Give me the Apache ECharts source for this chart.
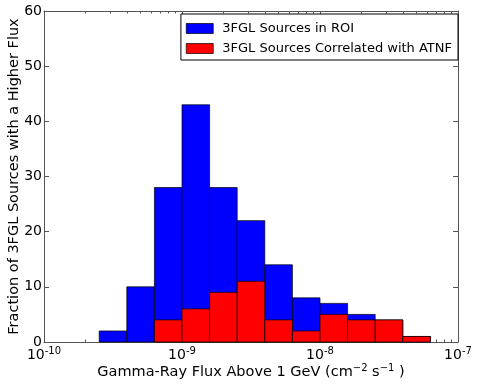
<!DOCTYPE html>
<html>
<head>
<meta charset="utf-8">
<script src="https://cdn.jsdelivr.net/npm/echarts@6/dist/echarts.min.js"></script>
<style>
  html, body { margin: 0; padding: 0; background: #fff; }
  #chart { width: 479px; height: 384px; }
</style>
</head>
<body>
<div id="chart"></div>
<script>
// bin edges in log10(flux), 0.2 dex wide
var binEdges = [-9.6, -9.4, -9.2, -9.0, -8.8, -8.6, -8.4, -8.2, -8.0, -7.8, -7.6, -7.4, -7.2];
var roiCounts = [2, 10, 28, 43, 28, 22, 14, 8, 7, 5, 4, 1];
var atnfCounts = [0, 0, 4, 6, 9, 11, 4, 2, 5, 4, 4, 1];
var xMajorTicks = [-10, -9, -8, -7];
var yTicks = [0, 10, 20, 30, 40, 50, 60];

var font = 'DejaVu Sans';

// minor log ticks 2..9 inside each decade
var xMinorTicks = [];
for (var n = -10; n < -7; n++) {
  for (var k = 2; k <= 9; k++) xMinorTicks.push(n + Math.log10(k));
}

function toBins(counts) {
  var out = [];
  for (var i = 0; i < counts.length; i++) {
    out.push([binEdges[i], binEdges[i + 1], counts[i]]);
  }
  return out;
}

function histItem(fill) {
  return function (params, api) {
    var v = api.value(2);
    if (!v) return null;
    var p0 = api.coord([api.value(0), 0]);
    var p1 = api.coord([api.value(1), v]);
    return {
      type: 'rect',
      shape: { x: p0[0], y: p1[1], width: p1[0] - p0[0], height: p0[1] - p1[1] },
      style: { fill: fill, stroke: '#000', lineWidth: 0.7 }
    };
  };
}

var lineStyle = { color: '#555', width: 1 };
var supStyle = { fontFamily: font, fontSize: 10, color: '#000', verticalAlign: 'bottom', padding: [0, 0, 8, 0] };

function xAxisDef(pos, ticks, len, labels, line) {
  return {
    type: 'value', position: pos, min: -10, max: -7, interval: 1,
    axisLine: { show: line, onZero: false, lineStyle: lineStyle },
    splitLine: { show: false },
    axisTick: { show: true, inside: true, length: len, customValues: ticks, lineStyle: lineStyle },
    axisLabel: labels ? {
      show: true, customValues: xMajorTicks, margin: 4,
      formatter: function (v) { return '{b|10}{s|' + Math.round(v) + '}'; },
      rich: {
        b: { fontFamily: font, fontSize: 14, color: '#000' },
        s: supStyle
      }
    } : { show: false }
  };
}

var chart = echarts.init(document.getElementById('chart'));
chart.setOption({
  animation: false,
  grid: { left: 44, right: 21, top: 11, bottom: 42, containLabel: false, outerBoundsMode: 'none' },
  legend: {
    orient: 'vertical', right: 21, top: 14,
    padding: [8, 6, 5, 5], itemGap: 7, itemWidth: 27, itemHeight: 10,
    borderColor: '#000', borderWidth: 1, backgroundColor: '#fff',
    icon: 'rect',
    itemStyle: { borderColor: '#000', borderWidth: 0.7 },
    textStyle: { fontFamily: font, fontSize: 13, color: '#000', padding: [0, 0, 0, 4] },
    data: ['3FGL Sources in ROI', '3FGL Sources Correlated with ATNF']
  },
  xAxis: [
    Object.assign(xAxisDef('bottom', xMajorTicks, 5, true, true), {
      name: '{t|Gamma-Ray Flux Above 1 GeV (cm}{s|\u22122}{t| s}{s|\u22121}{t| )}',
      nameLocation: 'middle', nameGap: 21, nameMoveOverlap: false,
      nameTextStyle: {
        fontFamily: font, fontSize: 14.5, color: '#000',
        rich: { t: { fontFamily: font, fontSize: 14.5, color: '#000' }, s: supStyle }
      }
    }),
    xAxisDef('bottom', xMinorTicks, 2.5, false, false),
    xAxisDef('top', xMajorTicks, 5, false, true),
    xAxisDef('top', xMinorTicks, 2.5, false, false)
  ],
  yAxis: [
    {
      type: 'value', position: 'left', min: 0, max: 60, interval: 10,
      name: 'Fraction of 3FGL Sources with a Higher Flux',
      nameLocation: 'middle', nameGap: 22, nameMoveOverlap: false,
      nameTextStyle: { fontFamily: font, fontSize: 14.5, color: '#000' },
      axisLine: { show: true, lineStyle: lineStyle },
      axisTick: { show: true, inside: true, length: 5, customValues: yTicks, lineStyle: lineStyle },
      axisLabel: { fontFamily: font, fontSize: 14, color: '#000', margin: 2 },
      splitLine: { show: false }
    },
    {
      type: 'value', position: 'right', min: 0, max: 60, interval: 10,
      axisLine: { show: true, lineStyle: lineStyle },
      axisTick: { show: true, inside: true, length: 5, lineStyle: lineStyle },
      axisLabel: { show: false },
      splitLine: { show: false }
    }
  ],
  series: [
    {
      name: '3FGL Sources in ROI', type: 'custom',
      xAxisIndex: 0, yAxisIndex: 0,
      itemStyle: { color: '#0000ff' },
      encode: { x: [0, 1], y: 2 },
      renderItem: histItem('#0000ff'),
      data: toBins(roiCounts)
    },
    {
      name: '3FGL Sources Correlated with ATNF', type: 'custom',
      xAxisIndex: 0, yAxisIndex: 0,
      itemStyle: { color: '#ff0000' },
      encode: { x: [0, 1], y: 2 },
      renderItem: histItem('#ff0000'),
      data: toBins(atnfCounts)
    }
  ]
});
</script>
</body>
</html>
